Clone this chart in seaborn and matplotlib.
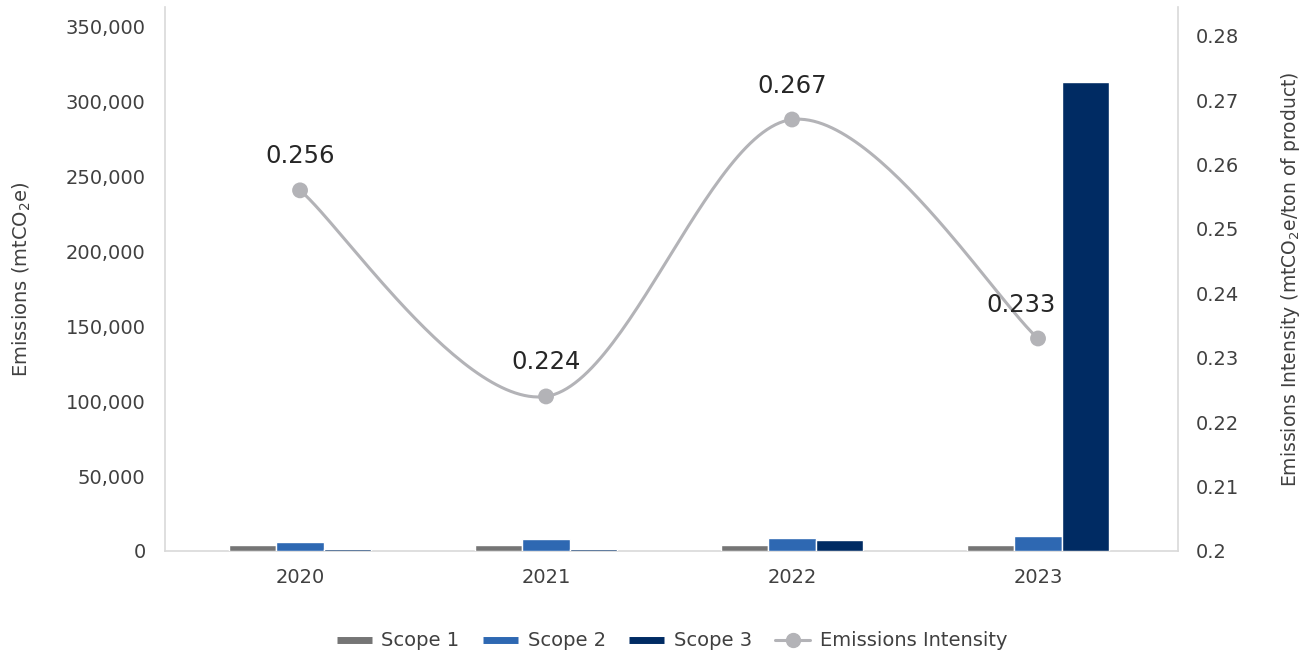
import numpy as np
import pandas as pd
import matplotlib
matplotlib.use("Agg")
import matplotlib.pyplot as plt
import seaborn as sns
from matplotlib.lines import Line2D
from matplotlib.ticker import FuncFormatter

# ---- data ----
years = ["2020", "2021", "2022", "2023"]
scope1 = [4000, 4000, 3800, 4000]
scope2 = [6200, 8200, 8800, 10000]
scope3 = [1500, 1200, 7200, 313000]
intensity = [0.256, 0.224, 0.267, 0.233]
intensity_labels = ["0.256", "0.224", "0.267", "0.233"]
series_names = ["Scope 1", "Scope 2", "Scope 3"]
line_name = "Emissions Intensity"

colors = ["#757575", "#2E68B2", "#002B63"]
line_color = "#B3B3B7"
text_color = "#262626"
tick_color = "#404040"
spine_color = "#D9D9D9"

sns.set_theme(style="white")
plt.rcParams['font.family'] = ['DejaVu Sans']

df = pd.DataFrame({
    "Year": years * 3,
    "Emissions": scope1 + scope2 + scope3,
    "Scope": [s for s in series_names for _ in years],
})

W, H = 1299, 656
fig = plt.figure(figsize=(W / 100, H / 100), dpi=100)
ax = fig.add_axes([165 / W, 1 - 551 / H, (1178 - 165) / W, (551 - 7) / H])

sns.barplot(data=df, x="Year", y="Emissions", hue="Scope", palette=colors,
            hue_order=series_names, order=years, width=0.58, saturation=1,
            ax=ax, legend=False, zorder=3)

ax.set_xlim(-0.549, 3.569)
ax.set_ylim(0, 362667)
ax.set_yticks(np.arange(0, 350001, 50000))
ax.yaxis.set_major_formatter(FuncFormatter(lambda v, p: f"{int(v):,}"))
ax.tick_params(axis="y", length=0, pad=14, labelsize=14, labelcolor=tick_color)
ax.tick_params(axis="x", length=0, pad=12, labelsize=14, labelcolor=tick_color)
ax.set_xlabel("")
ax.set_ylabel("Emissions (mtCO$_2$e)", fontsize=14, color=tick_color, va="center")
ax.yaxis.set_label_coords(-0.141, 0.5)

for s in ["top", "right"]:
    ax.spines[s].set_visible(False)
for s in ["left", "bottom"]:
    ax.spines[s].set_color(spine_color)
    ax.spines[s].set_linewidth(1.2)
    ax.spines[s].set_zorder(1)

# ---- secondary axis: smoothed intensity line ----
ax2 = ax.twinx()
x = np.arange(len(intensity), dtype=float)
y = np.array(intensity)
px = np.concatenate([[x[0]], x, [x[-1]]])
py = np.concatenate([[y[0]], y, [y[-1]]])
cx, cy = [], []
t = np.linspace(0, 1, 60)
for i in range(len(x) - 1):
    p0 = np.array([px[i + 1], py[i + 1]])
    p3 = np.array([px[i + 2], py[i + 2]])
    c1 = p0 + (np.array([px[i + 2], py[i + 2]]) - np.array([px[i], py[i]])) / 6
    c2 = p3 - (np.array([px[i + 3], py[i + 3]]) - np.array([px[i + 1], py[i + 1]])) / 6
    b = ((1 - t) ** 3)[:, None] * p0 + (3 * (1 - t) ** 2 * t)[:, None] * c1 \
        + (3 * (1 - t) * t ** 2)[:, None] * c2 + (t ** 3)[:, None] * p3
    cx.extend(b[:, 0]); cy.extend(b[:, 1])
ax2.plot(cx, cy, color=line_color, lw=2.2, solid_capstyle="round", zorder=3)
sns.scatterplot(x=x, y=y, ax=ax2, color=line_color, s=130, edgecolor="none",
                zorder=4, legend=False)

ax2.set_ylim(0.2, 0.28447)
ax2.set_yticks([0.2, 0.21, 0.22, 0.23, 0.24, 0.25, 0.26, 0.27, 0.28])
ax2.yaxis.set_major_formatter(FuncFormatter(lambda v, p: f"{round(v, 2):g}"))
ax2.tick_params(axis="y", length=0, pad=13, labelsize=14, labelcolor=tick_color)
ax2.set_ylabel("Emissions Intensity (mtCO$_2$e/ton of product)", fontsize=13.5,
               color=tick_color, va="center")
ax2.yaxis.set_label_coords(1.1106, 0.5)
ax2.grid(False)
ax.grid(False)
for s in ["top", "left", "bottom"]:
    ax2.spines[s].set_visible(False)
ax2.spines["right"].set_color(spine_color)
ax2.spines["right"].set_linewidth(1.2)

offsets = [(0, 34), (0, 34), (0, 34), (-17, 33)]
for i, (v, lab) in enumerate(zip(intensity, intensity_labels)):
    ax2.annotate(lab, (x[i], v), xytext=offsets[i], textcoords="offset pixels",
                 ha="center", va="center", fontsize=17.5, color=text_color, zorder=5)

# ---- legend ----
handles = [Line2D([0], [0], color=c, lw=5, solid_capstyle="butt") for c in colors]
handles.append(Line2D([0], [0], color=line_color, lw=2.2, marker="o", markersize=10))
fig.legend(handles, series_names + [line_name], loc="center", ncol=4,
           bbox_to_anchor=(672 / W, 1 - 641 / H), frameon=False, fontsize=14,
           handlelength=1.8, handletextpad=0.5, columnspacing=1.2,
           labelcolor=tick_color)

fig.savefig("out.png", dpi=100)
